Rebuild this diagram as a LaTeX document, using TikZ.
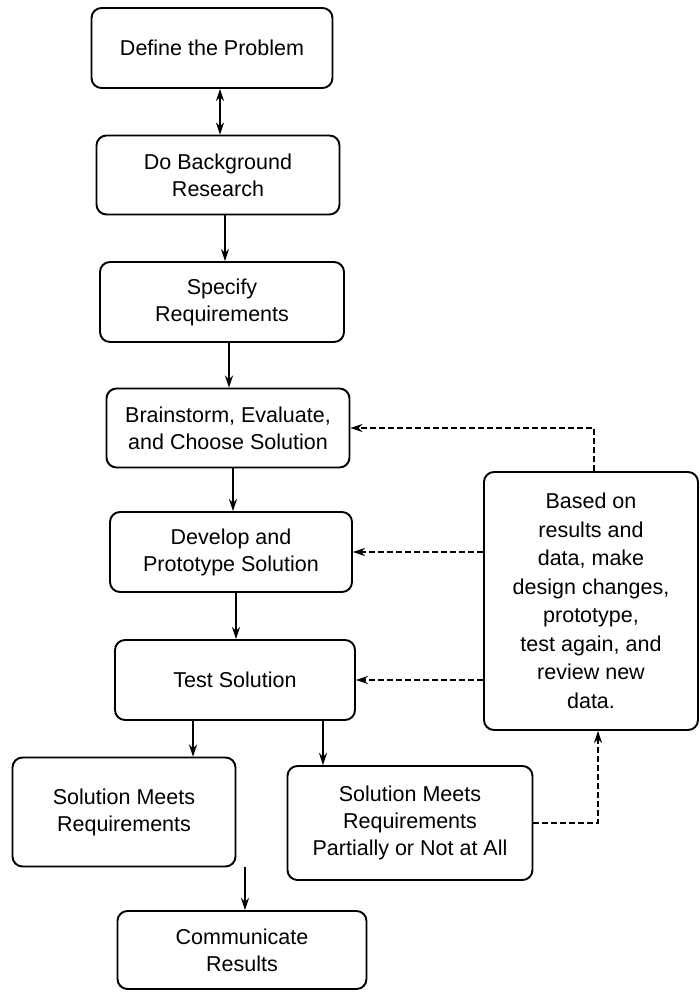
\documentclass[tikz,border=0pt]{standalone}
\usepackage{fontspec}
\setmainfont{Liberation Sans}
\usetikzlibrary{arrows.meta}
\begin{document}
\begin{tikzpicture}[x=1pt,y=-1pt,
  stepbox/.style={draw, line width=1.9pt, rounded corners=10pt, align=center,
    font=\fontsize{21.5}{27}\selectfont, inner sep=0pt},
  arr/.style={line width=1.6pt, -{Stealth[length=12pt,width=8pt]}},
  dasharr/.style={line width=1.6pt, dash pattern=on 6pt off 3pt, -{Stealth[length=12pt,width=8pt]}}]
\useasboundingbox (0,0) rectangle (700,992);
\fill[white] (0,0) rectangle (700,992);

% main column
\node[stepbox, minimum width=241pt, minimum height=80pt] (n1) at (212,48) {Define the Problem};
\node[stepbox, minimum width=243pt, minimum height=79pt] (n2) at (218,175) {Do Background\\Research};
\node[stepbox, minimum width=244pt, minimum height=80pt] (n3) at (222,302) {Specify\\Requirements};
\node[stepbox, minimum width=243pt, minimum height=79pt] (n4) at (228,428) {Brainstorm, Evaluate,\\and Choose Solution};
\node[stepbox, minimum width=242pt, minimum height=80pt] (n5) at (231,552) {Develop and\\Prototype Solution};
\node[stepbox, minimum width=240pt, minimum height=80pt] (n6) at (235,680) {Test Solution};
% outcomes
\node[stepbox, minimum width=223pt, minimum height=109pt] (n7) at (124,812) {Solution Meets\\Requirements};
\node[stepbox, minimum width=245pt, minimum height=114pt] (n8) at (410,823) {Solution Meets\\Requirements\\Partially or Not at All};
\node[stepbox, minimum width=249pt, minimum height=78pt] (n9) at (242,950) {Communicate\\Results};
% feedback box
\node[stepbox, minimum width=214pt, minimum height=258pt, font=\fontsize{21.5}{28.5}\selectfont] (n10) at (591,601)
  {Based on\\results and\\data, make\\design changes,\\prototype,\\test again, and\\review new\\data.};

% x positions of the connectors
\coordinate (xa) at (220,0);
\coordinate (xb) at (225,0);
\coordinate (xc) at (229,0);
\coordinate (xd) at (233,0);
\coordinate (xe) at (236,0);
\coordinate (xf) at (193,0);
\coordinate (xg) at (323,0);
\coordinate (xh) at (245,0);
\coordinate (xi) at (594,0);
\coordinate (xj) at (598,0);

% solid flow
\draw[line width=1.6pt, {Stealth[length=12pt,width=8pt]}-{Stealth[length=12pt,width=8pt]}] (n1.south -| xa) -- (n2.north -| xa);
\draw[arr] (n2.south -| xb) -- (n3.north -| xb);
\draw[arr] (n3.south -| xc) -- (n4.north -| xc);
\draw[arr] (n4.south -| xd) -- (n5.north -| xd);
\draw[arr] (n5.south -| xe) -- (n6.north -| xe);
\draw[arr] (n6.south -| xf) -- (n7.north -| xf);
\draw[arr] (n6.south -| xg) -- (n8.north -| xg);
\draw[arr] (n7.south -| xh) -- (n9.north -| xh);

% feedback loop
\draw[dasharr] (n10.north -| xi) |- (n4.east);
\draw[dasharr] (n10.west |- n5.east) -- (n5.east);
\draw[dasharr] (n10.west |- n6.east) -- (n6.east);
\draw[dasharr] (n8.east) -| (n10.south -| xj);
\end{tikzpicture}
\end{document}
